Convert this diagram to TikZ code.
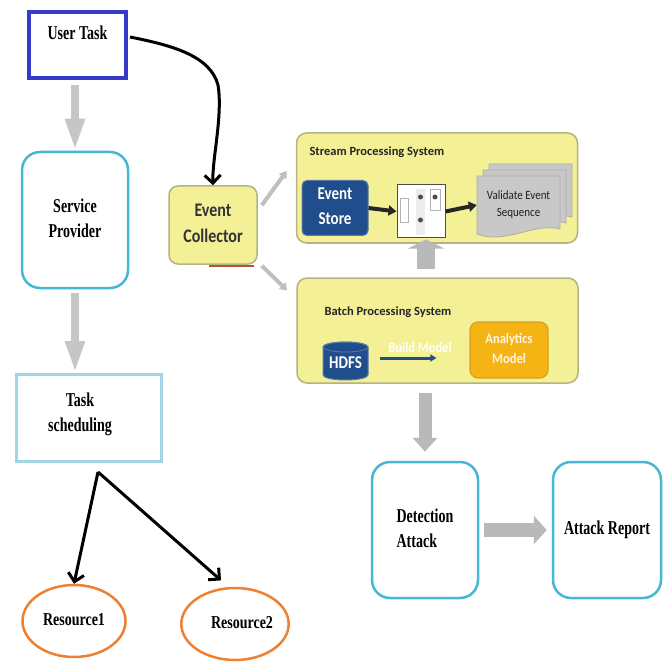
\documentclass[tikz,border=0pt]{standalone}
\usepackage{fontspec}
\usepackage{graphicx}
\setmainfont{Liberation Serif}
\newfontfamily\carl{Carlito}
\usetikzlibrary{arrows.meta,shapes.geometric,calc}
\newcommand{\stretchy}[2]{\scalebox{1}[#1]{\begin{tabular}{@{}c@{}}#2\end{tabular}}}
\newcommand{\stretchl}[2]{\scalebox{1}[#1]{\begin{tabular}{@{}l@{}}#2\end{tabular}}}
\definecolor{utblue}{RGB}{58,58,200}
\definecolor{tealc}{RGB}{70,183,212}
\definecolor{ltblue}{RGB}{160,212,230}
\definecolor{orng}{RGB}{238,128,50}
\definecolor{ylw}{RGB}{243,240,150}
\definecolor{ylwb}{RGB}{180,180,130}
\definecolor{dkblue}{RGB}{32,78,140}
\definecolor{esb}{RGB}{90,120,170}
\definecolor{amber}{RGB}{245,180,20}
\definecolor{amb}{RGB}{215,160,40}
\definecolor{docg}{RGB}{200,200,200}
\definecolor{redc}{RGB}{180,80,60}
\begin{document}
\begin{tikzpicture}[x=1pt,y=-1pt,
  serif/.style={font=\fontsize{14}{17}\selectfont\bfseries},
  sansbig/.style={font=\carl\fontsize{15}{18}\selectfont\bfseries},
  sanstitle/.style={font=\carl\fontsize{12.5}{15}\selectfont\bfseries},
  tealbox/.style={draw=tealc, line width=2.5pt, rounded corners=18pt, minimum width=106pt, minimum height=136pt, inner sep=0pt},
  ylwbox/.style={draw=ylwb, fill=ylw, line width=1.5pt, rounded corners=10pt},
  blk/.style={draw=black, line width=3pt, -{Straight Barb[length=8pt,width=16pt]}},
  grayone/.style={draw=gray!45, line width=8pt, -{Triangle[width=18pt,length=32pt]}},
  graybig/.style={draw=gray!55, line width=13pt, -{Triangle[width=24pt,length=14pt]}},
  thingray/.style={draw=gray!50, line width=4pt, -{Triangle[width=9pt,length=7pt]}},
  blkthick/.style={draw=black!85, line width=4pt, -{Triangle[width=10pt,length=8pt]}}
]
\useasboundingbox[fill=white] (0,0) rectangle (670,666);

% ---------- left column ----------
\node[draw=utblue, line width=4pt, minimum width=97pt, minimum height=66pt] (ut) at (77.5,45) {};
\node[serif] (utt) at (77.5,35) {\stretchy{1.4}{User Task}};

\node[tealbox, serif] (sp) at (75,220) {\stretchy{1.4}{Service\\[1pt]Provider}\rule[-16pt]{0pt}{16pt}};

\node[draw=ltblue, line width=3pt, minimum width=145pt, minimum height=87pt] (ts) at (89,418) {};
\node[serif] (tst) at (80,414) {\stretchy{1.4}{Task\\[1pt]\hspace*{0pt}scheduling}};

\node[ellipse, draw=orng, line width=2.5pt, minimum width=103pt, minimum height=72pt, inner sep=0pt, serif] (r1) at (74,621) {\stretchy{1.3}{Resource1}};
\node[ellipse, draw=orng, line width=2.5pt, minimum width=104pt, minimum height=72pt, inner sep=0pt, serif] (r2) at (235,624) {\hspace*{14pt}\stretchy{1.3}{Resource2}};

\draw[grayone, shorten <=5pt] (ut.south -| sp.north) -- (sp.north);
\draw[grayone, shorten <=4pt] (sp.south) -- (sp.south |- ts.north);

\coordinate (tsa) at ($(ts.south)+(9,9)$);
\draw[blk] (tsa) -- (r1.north);
\draw[blk, shorten >=10pt] (tsa) -- (r2.100);

% ---------- event collector ----------
\node[draw=ylwb, fill=ylw, line width=1.5pt, rounded corners=9pt, minimum width=88pt, minimum height=78pt, font=\carl\fontsize{16}{19}\selectfont\bfseries, text=black!80] (ec) at (213,225) {\stretchy{1.2}{Event\\[3pt]Collector}};
\draw[redc, line width=2pt] ($(ec.south)+(-4,1)$) -- ($(ec.south east)+(-4,1)$);

\draw[blk] ($(ut.east)+(2,-8)$) .. controls (170,45) and (210,55) .. (218,85) .. controls (223,115) and (212,160) .. (ec.north);

% ---------- stream processing ----------
\node[ylwbox, minimum width=281pt, minimum height=110pt] (sps) at (437,188) {};
\node[sanstitle, anchor=west, text=black!85] (spt) at (306,152) {Stream Processing System};

\node[draw=esb, fill=dkblue, line width=1pt, rounded corners=5pt, minimum width=66pt, minimum height=55pt, inner sep=0pt, text=white, sansbig] (es) at (335,208) {\stretchy{1.2}{Event\\[3pt]Store}};

\node[draw=gray!60!black, fill=white, line width=1pt, minimum width=48pt, minimum height=53pt] (wb) at (421,211.5) {};
\draw[gray!60, line width=0.8pt] (400,198) rectangle (408,222);
\fill[gray!15] (416,189) rectangle (425,235);
\fill[gray!60!black] (420.5,197) circle[radius=2.5pt];
\fill[gray!60!black] (420.5,220) circle[radius=2.5pt];
\draw[gray!60, line width=0.8pt] (430,189) rectangle (440,210);
\fill[gray!60!black] (435,197) circle[radius=2.5pt];

\foreach \d in {12,6,0}
  \filldraw[fill=docg, draw=gray!65, line width=0.8pt] (477+\d,176-\d) -- (560+\d,176-\d) -- (560+\d,229-\d) .. controls (535+\d,222-\d) and (505+\d,245-\d) .. (477+\d,234-\d) -- cycle;
\node[minimum width=83pt, minimum height=58pt, inner sep=0pt, font=\carl\fontsize{11}{13}\selectfont, text=gray!25!black] (vs) at (518.5,205) {\stretchy{1.15}{Validate Event\\[1pt]Sequence}};

\draw[blkthick] (es.east) -- (wb.west);
\draw[blkthick] (wb.east) -- (vs.west);
\draw[draw=gray!55, line width=18pt, -{Triangle[width=36pt,length=9pt]}] ($(wb.south)+(5,30)$) -- ($(wb.south)+(5,1)$);

% ---------- batch processing ----------
\node[ylwbox, minimum width=281pt, minimum height=105pt] (bps) at (437.5,330.5) {};
\node[sanstitle, anchor=west, text=black!85] (bpt) at (321,312) {Batch Processing System};

\filldraw[fill=dkblue, draw=esb, line width=1pt] (323,347) arc[start angle=180, end angle=360, x radius=22.5, y radius=5] -- (368,375) arc[start angle=0, end angle=180, x radius=22.5, y radius=5] -- cycle;
\draw[esb, line width=0.8pt] (345.5,347) ellipse[x radius=22.5, y radius=5];
\node[minimum width=45pt, inner sep=0pt, text=white, sansbig] (hd) at (345.5,364) {\stretchy{1.2}{HDFS}};

\node[draw=amb, fill=amber, line width=1.2pt, rounded corners=8pt, minimum width=78pt, minimum height=56pt, inner sep=0pt, text=white!88!amber, font=\carl\fontsize{12.5}{15}\selectfont\bfseries] (am) at (509,350) {\stretchy{1.15}{Analytics\\[2pt]Model}};

\draw[draw=dkblue, line width=3pt, -{Triangle[width=7pt,length=6pt]}] ($(hd.east)+(12,-6)$) -- ($(am.west)+(-33,8)$);
\node[text=white, font=\carl\fontsize{12.5}{15}\selectfont\bfseries] (bm) at (420,348) {\scalebox{1}[1.15]{Build Model}};

% ---------- detection ----------
\node[tealbox, serif] (da) at (425,530) {\stretchl{1.4}{Detection\\[1pt]Attack}};
\node[tealbox, minimum width=108pt, serif] (ar) at (607,530) {\stretchy{1.4}{Attack Report}\rule[-5pt]{0pt}{5pt}};

\draw[graybig, shorten <=9pt, shorten >=9pt] (da.north |- bps.south) -- (da.north);
\draw[draw=gray!55, line width=14pt, -{Triangle[width=28pt,length=13pt]}, shorten <=5pt, shorten >=5pt] (da.east) -- (ar.west);

\draw[thingray] ($(ec.north east)+(4,20)$) -- ($(sps.west)+(-9,-17)$);
\draw[thingray] ($(ec.south east)+(4,1)$) -- ($(bps.west)+(-9,-40)$);
\end{tikzpicture}
\end{document}
